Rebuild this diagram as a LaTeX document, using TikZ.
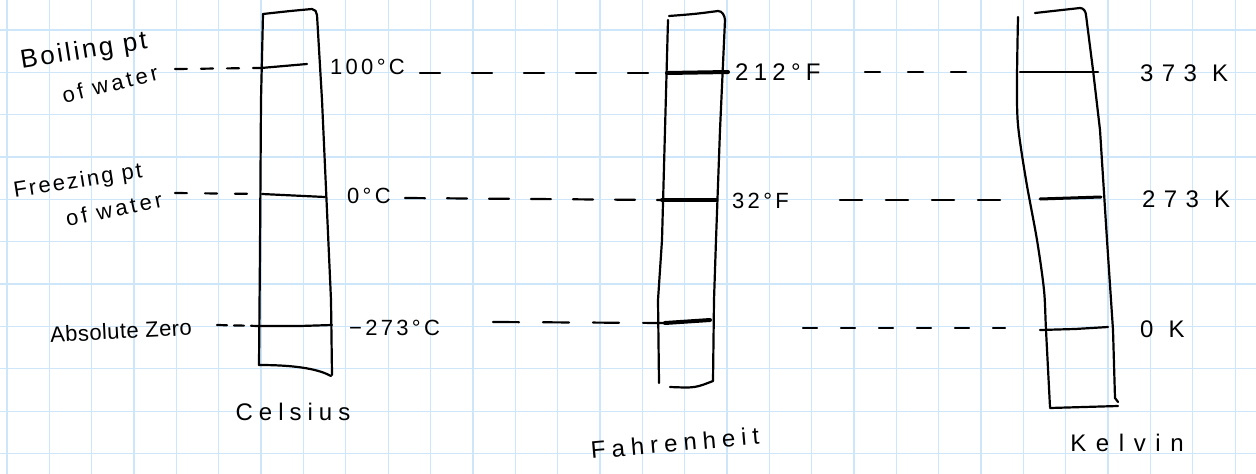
\documentclass[tikz,border=0pt]{standalone}
\usepackage{fontspec}
\setmainfont{Liberation Sans}
\newfontfamily\hand{Liberation Sans}
\definecolor{gridc}{RGB}{206,230,250}
\begin{document}
\begin{tikzpicture}[x=1pt,y=-1pt,
  pen/.style={line width=2.2pt, line cap=round, line join=round},
  thick tick/.style={line width=4pt, line cap=round},
  tick/.style={line width=2.2pt, line cap=round},
  dl/.style={line width=2.2pt, line cap=round},
  gridline/.style={gridc, line width=1.3pt},
  lab/.style={inner sep=0pt, font={\hand\fontsize{22}{24}\selectfont\addfontfeature{LetterSpace=15}}},
  biglab/.style={inner sep=0pt, font={\hand\fontsize{24}{26}\selectfont\addfontfeature{LetterSpace=25}}}]
\fill[white] (0,0) rectangle (1256,474);
\useasboundingbox (0,0) rectangle (1256,474);
% grid paper
\foreach \i in {0,...,29} \draw[gridline] ({7+42.35*\i},0) -- ({7+42.35*\i},474);
\foreach \j in {0,...,10} \draw[gridline] (0,{30+42.35*\j}) -- (1256,{30+42.35*\j});

% ---------- Celsius thermometer ----------
\draw[pen] (263,14) -- (261,100) -- (260,250) -- (259,365);
\draw[pen] (263,14) .. controls (290,11) .. (312,9) to[out=0,in=95] (317,15) -- (322,100) -- (328,233) -- (331,300) -- (332,375);
\draw[pen] (259,365) .. controls (300,365) and (320,370) .. (331,376);
\coordinate (c100L) at (261,68); \coordinate (c100R) at (307,64);
\coordinate (c0L) at (262,194);  \coordinate (c0R) at (325,197);
\coordinate (cAL) at (259,326);  \coordinate (cAR) at (332,325);
\draw[tick] (c100L) -- (c100R);
\draw[tick] (c0L) -- (c0R);
\draw[tick] (cAL) -- (300,326) -- (cAR);

% ---------- Fahrenheit thermometer ----------
\draw[pen] (668,20) -- (665,130) -- (662,240) -- (658,300) -- (659,383);
\draw[pen] (669,16) .. controls (695,14) .. (718,11) to[out=0,in=95] (725,20) -- (720,130) -- (716,240) -- (714,300) -- (713,381);
\draw[pen] (670,387) .. controls (695,388) .. (713,381);
\coordinate (f212L) at (667,73); \coordinate (f212R) at (728,72);
\coordinate (f32L) at (662,200); \coordinate (f32R) at (716,200);
\coordinate (fAL) at (665,323);  \coordinate (fAR) at (710,320);
\draw[thick tick] (f212L) -- (f212R);
\draw[thick tick] (f32L) -- (f32R);
\draw[thick tick] (fAL) -- (fAR);

% ---------- Kelvin thermometer ----------
\draw[pen] plot[smooth] coordinates {(1018,17) (1017,80) (1018,125) (1026,180) (1037,240) (1044,290) (1046,330) (1050,407)};
\draw[pen] (1035,13) -- (1080,8) to[out=0,in=95] (1086,15) -- (1093,70) -- (1100,130) -- (1107,240) -- (1113,330) -- (1115,398) -- (1118,402);
\draw[pen] (1050,408) -- (1118,406);
\coordinate (k373L) at (1020,72); \coordinate (k373R) at (1098,72);
\coordinate (k273L) at (1040,199); \coordinate (k273R) at (1101,197);
\coordinate (k0L) at (1040,330);  \coordinate (k0R) at (1108,327);
\draw[tick] (k373L) -- (k373R);
\draw[line width=3pt, line cap=round] (k273L) -- (k273R);
\draw[tick] (k0L) -- (1075,329) -- (k0R);

% ---------- left labels ----------
\node[lab, font={\hand\fontsize{26}{28}\selectfont\addfontfeature{LetterSpace=10}}, rotate=9] (boil) at (84,52) {Boiling pt};
\node[lab, rotate=14] (ofw1) at (110,84) {of water};
\node[lab, font={\hand\fontsize{22}{24}\selectfont\addfontfeature{LetterSpace=10}}, rotate=9] (freeze) at (78,182) {Freezing pt};
\node[lab, rotate=12] (ofw2) at (114,209) {of water};
\node[lab, font={\hand\fontsize{22}{24}\selectfont\addfontfeature{LetterSpace=2}}, rotate=3] (abszero) at (121,331) {Absolute Zero};

% ---------- value labels ----------
\node[lab, anchor=west] (l100) at (330,67) {100°C};
\node[lab, anchor=west] (l0) at (347,196) {0°C};
\node[lab, anchor=west] (lm273) at (349,328) {−273°C};
\node[lab, anchor=west, font={\hand\fontsize{24}{26}\selectfont\addfontfeature{LetterSpace=22}}] (l212) at (735,72) {212°F};
\node[lab, anchor=west] (l32) at (732,201) {32°F};
\node[lab, anchor=west, font={\hand\fontsize{24}{26}\selectfont\addfontfeature{LetterSpace=35}}] (l373) at (1140,73) {373 K};
\node[lab, anchor=west, font={\hand\fontsize{24}{26}\selectfont\addfontfeature{LetterSpace=35}}] (l273) at (1142,199) {273 K};
\node[lab, anchor=west, font={\hand\fontsize{24}{26}\selectfont\addfontfeature{LetterSpace=35}}] (lk0) at (1140,329) {0 K};

% ---------- scale names ----------
\node[biglab] (celsius) at (293,412) {Celsius};
\node[biglab, rotate=5] (fahr) at (675,443) {Fahrenheit};
\node[biglab, font={\hand\fontsize{24}{26}\selectfont\addfontfeature{LetterSpace=40}}] (kelvin) at (1127,443) {Kelvin};

% ---------- dashed connectors ----------
\coordinate (b0) at (175,69);
\coordinate (fz0) at (175,193);
\coordinate (a0) at (217,325);
\coordinate (cf1) at (420,73);
\coordinate (cf2) at (405,198);
\coordinate (cf3) at (493,322);
\coordinate (fk1) at (865,72);  \coordinate (fk1e) at (990,72);
\coordinate (fk2) at (840,200); \coordinate (fk2e) at (1008,200);
\coordinate (fk3) at (803,328); \coordinate (fk3e) at (1005,328);
\draw[dl, dash pattern=on 12pt off 14pt] (b0) -- (c100L);
\draw[dl, dash pattern=on 12pt off 18pt] (fz0) -- (c0L);
\draw[dl, dash pattern=on 10pt off 7pt] (a0) -- (cAL);
\draw[dl, dash pattern=on 20pt off 32pt] (cf1) -- (f212L);
\draw[dl, dash pattern=on 20pt off 22pt] (cf2) -- (f32L);
\draw[dl, dash pattern=on 26pt off 24pt] (cf3) -- (fAL);
\draw[dl, dash pattern=on 15pt off 28pt] (fk1) -- (fk1e);
\draw[dl, dash pattern=on 22pt off 24pt] (fk2) -- (fk2e);
\draw[dl, dash pattern=on 14pt off 24pt] (fk3) -- (fk3e);
\end{tikzpicture}
\end{document}
